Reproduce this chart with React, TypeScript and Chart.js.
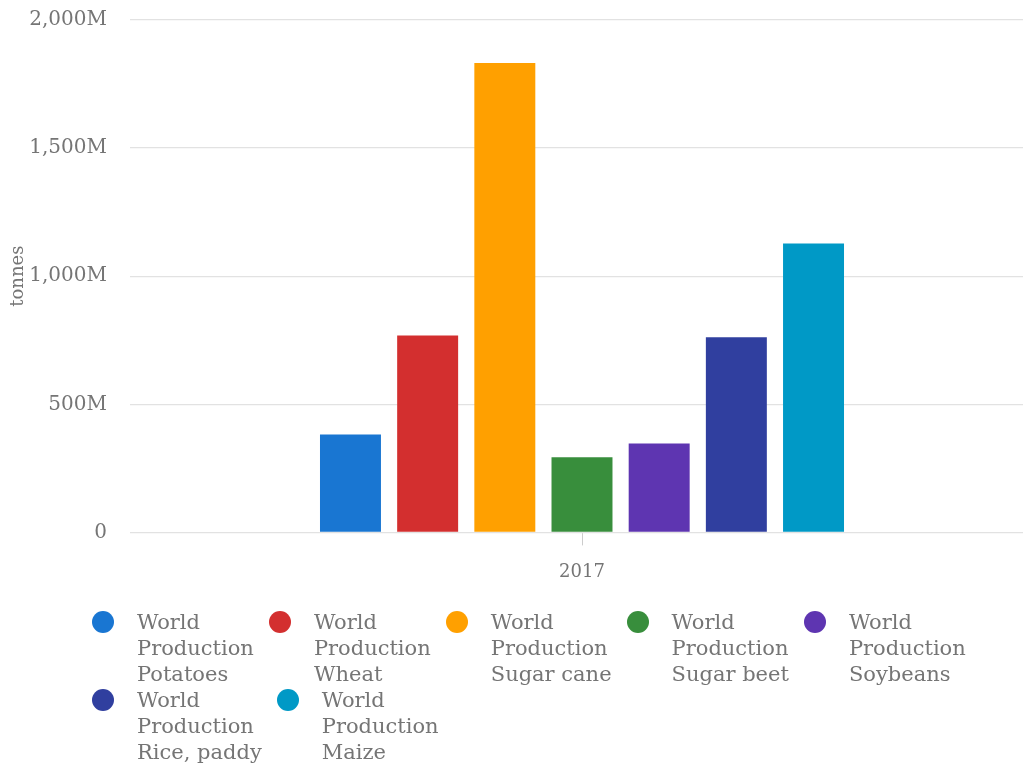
import React, { useEffect, useRef } from "react";
import { Chart, registerables } from "chart.js";

Chart.register(...registerables);

const categories = ["2017"];
const seriesNames = [
  "World Production Potatoes",
  "World Production Wheat",
  "World Production Sugar cane",
  "World Production Sugar beet",
  "World Production Soybeans",
  "World Production Rice, paddy",
  "World Production Maize",
];
const legendLines = [
  ["World", "Production", "Potatoes"],
  ["World", "Production", "Wheat"],
  ["World", "Production", "Sugar cane"],
  ["World", "Production", "Sugar beet"],
  ["World", "Production", "Soybeans"],
  ["World", "Production", "Rice, paddy"],
  ["World", "Production", "Maize"],
];
const seriesValues = [382e6, 769e6, 1832e6, 293e6, 347e6, 762e6, 1128e6];
const seriesColors = ["#1976D2", "#D32F2F", "#FFA000", "#388E3C", "#5E35B1", "#303F9F", "#0099C6"];
const yTicks = [0, 500e6, 1000e6, 1500e6, 2000e6];
const yTickLabels = ["0", "500M", "1,000M", "1,500M", "2,000M"];
const yTitle = "tonnes";

const FONT = "'DejaVu Serif', serif";
const TEXT = "#757575";

export default function App() {
  const ref = useRef<HTMLCanvasElement | null>(null);

  useEffect(() => {
    const canvas = ref.current;
    if (!canvas) return;
    const chart = new Chart(canvas, {
      type: "bar",
      data: {
        labels: categories,
        datasets: seriesNames.map((name, i) => ({
          label: name,
          data: [seriesValues[i]],
          backgroundColor: seriesColors[i],
          borderWidth: 0,
          categoryPercentage: 0.5976,
          barPercentage: 0.79,
        })),
      },
      options: {
        responsive: false,
        animation: false,
        maintainAspectRatio: false,
        layout: { padding: { top: 20, left: 4, right: 6, bottom: 17 } },
        plugins: { legend: { display: false }, tooltip: { enabled: false } },
        scales: {
          x: {
            grid: {
              offset: false,
              drawOnChartArea: false,
              drawTicks: true,
              tickLength: 13,
              color: "#cccccc",
            },
            border: { display: false },
            ticks: { color: TEXT, font: { family: FONT, size: 18 }, padding: 16 },
          },
          y: {
            min: 0,
            max: 2000e6,
            afterBuildTicks: (scale: any) => {
              scale.ticks = yTicks.map((v) => ({ value: v }));
            },
            afterFit: (scale: any) => {
              scale.width = 126;
            },
            grid: {
              color: "#e2e2e2",
              drawTicks: true,
              tickLength: 23,
              tickColor: "rgba(0,0,0,0)",
              lineWidth: 1.3,
            },
            border: { display: false },
            ticks: {
              color: TEXT,
              font: { family: FONT, size: 20 },
              padding: 0,
              callback: (v: any) => {
                const idx = yTicks.indexOf(Number(v));
                return idx >= 0 ? yTickLabels[idx] : "";
              },
            },
            title: {
              display: true,
              text: yTitle,
              color: TEXT,
              font: { family: FONT, size: 18 },
              padding: { top: 4, bottom: 0 },
            },
          },
        },
      },
    });
    return () => chart.destroy();
  }, []);

  return (
    <div style={{ position: "fixed", left: 0, top: 0, width: 1023, height: 763, overflow: "hidden", background: "#fff" }}>
      <canvas ref={ref} width={1040} height={616} style={{ position: "absolute", left: 0, top: 0, width: 1040, height: 616 }} />
      <div
        style={{
          position: "absolute",
          left: 92,
          top: 609,
          width: 925,
          display: "flex",
          flexWrap: "wrap",
          columnGap: 15,
          fontFamily: FONT,
          fontSize: 21,
          lineHeight: "26px",
          color: TEXT,
        }}
      >
        {legendLines.map((lines, i) => (
          <div key={seriesNames[i]} style={{ display: "flex", alignItems: "flex-start" }}>
            <div
              style={{
                width: 22,
                height: 22,
                borderRadius: "50%",
                background: seriesColors[i],
                marginTop: 2,
                marginRight: 23,
                flex: "none",
              }}
            />
            <div>
              {lines.map((t, j) => (
                <div key={j} style={{ whiteSpace: "nowrap" }}>{t}</div>
              ))}
            </div>
          </div>
        ))}
      </div>
    </div>
  );
}
